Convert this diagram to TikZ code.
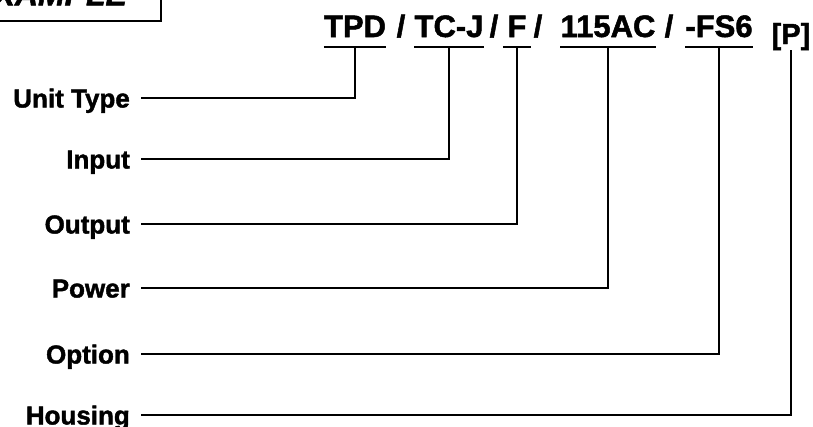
\documentclass[tikz,border=0pt]{standalone}
\usepackage{fontspec}
\setmainfont{Liberation Sans}[BoldFeatures={FakeBold=1.6}, BoldItalicFeatures={FakeBold=1.6}]
\usetikzlibrary{positioning}

\begin{document}
\begin{tikzpicture}[
			x=1pt, y=-1pt,
			codepart/.style={anchor=base, inner xsep=0pt, inner ysep=0pt, text height=22pt, text depth=9.5pt, font=\bfseries\fontsize{31}{36}\selectfont},
			slash/.style={anchor=base, inner sep=0pt, font=\bfseries\fontsize{31}{36}\selectfont},
			field/.style={anchor=east, inner xsep=11pt, inner ysep=0pt, text height=19pt, text depth=0pt, font=\bfseries\fontsize{26}{30}\selectfont},
			exbox/.style={draw, line width=2.2pt, anchor=south east, inner xsep=34pt, inner ysep=15.5pt, text depth=0pt, font=\bfseries\itshape\fontsize{32}{36}\selectfont},
			rule/.style={line width=1.6pt},
			link/.style={line width=1.6pt, line join=miter}
		]
		\useasboundingbox (0,0) rectangle (813,426);
		\clip (0,0) rectangle (813,426);
		
		\node[exbox] (example) at (162,22) {EXAMPLE};
		
		% model code
		\node[codepart] (tpd) at (355,37) {TPD};
		\node[slash] (s1) at (401,37) {/};
		\node[codepart] (tcj) at (449,37) {TC-J};
		\node[slash] (s2) at (494,37) {/};
		\node[codepart, minimum width=28pt] (out) at (517,37) {F};
		\node[slash] (s3) at (538,37) {/};
		\node[codepart] (pwr) at (608,37) {115AC};
		\node[slash] (s4) at (669,37) {/};
		\node[codepart] (opt) at (719,37) {-FS6};
		\node[codepart, text depth=6pt, font=\bfseries\fontsize{29}{32}\selectfont] (hsg) at (791,44) {[P]};
		
		\draw[rule] (tpd.south west) -- (tpd.south east);
		\draw[rule] (tcj.south west) -- (tcj.south east);
		\draw[rule] (out.south west) -- (out.south east);
		\draw[rule] (pwr.south west) -- (pwr.south east);
		\draw[rule] (opt.south west) -- (opt.south east);
		
		% field labels
		\node[field] (unit) at (141,98) {Unit Type};
		\node[field] (input) at (141,159) {Input};
		\node[field] (output) at (141,224) {Output};
		\node[field] (power) at (141,288) {Power};
		\node[field] (option) at (141,354) {Option};
		\node[field] (housing) at (141,415) {Housing};
		
		\draw[link] (unit.east) -| (tpd.south);
		\draw[link] (input.east) -| (tcj.south);
		\draw[link] (output.east) -| (out.south);
		\draw[link] (power.east) -| (pwr.south);
		\draw[link] (option.east) -| (opt.south);
		\draw[link] (housing.east) -| (hsg.south);
		\end{tikzpicture}
\end{document}
